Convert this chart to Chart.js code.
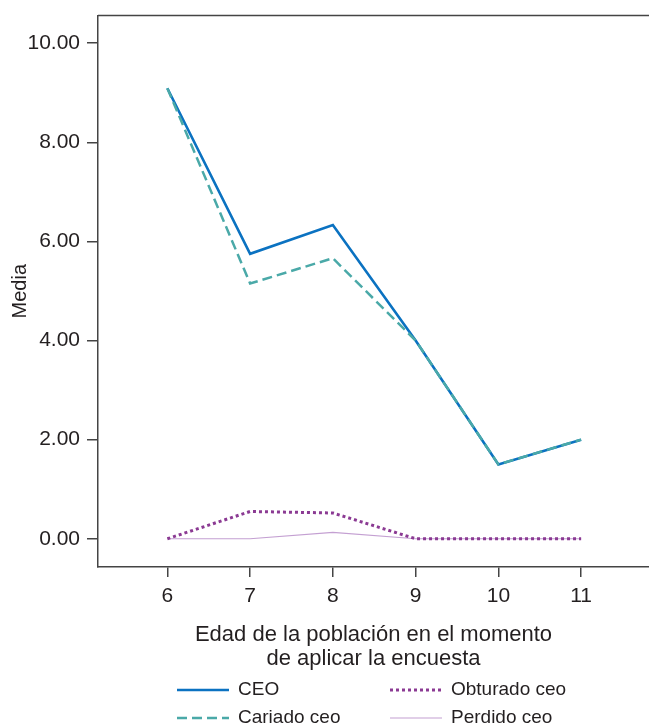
<!DOCTYPE html>
<html>
<head>
<meta charset="utf-8">
<script src="https://cdn.jsdelivr.net/npm/chart.js@4"></script>
<style>
  html, body { margin: 0; padding: 0; background: #fff; }
  #wrap { width: 649px; height: 725px; position: relative; }
</style>
</head>
<body>
<div id="wrap"><canvas id="chart"></canvas></div>
<script>
// edades (eje x) y medias por serie
const ages = [6, 7, 8, 9, 10, 11];
const ceo = [9.09, 5.75, 6.33, 4.00, 1.50, 2.00];
const cariado = [9.09, 5.15, 5.66, 4.00, 1.50, 2.00];
const obturado = [0, 0.55, 0.52, 0, 0, 0];
const perdido = [0, 0, 0.13, 0, 0, 0];
const yTicks = [0, 2, 4, 6, 8, 10];

const FONT = "'Liberation Sans', Arial, sans-serif";
const INK = '#231f20';

const pts = arr => arr.map((v, i) => ({ x: ages[i], y: v }));

// top border of the plot + custom two-column legend
const framePlugin = {
    id: 'frame',
    afterDraw(chart) {
        const { ctx, chartArea } = chart;
        ctx.save();
        ctx.strokeStyle = '#444';
        ctx.lineWidth = 1.5;
        ctx.beginPath();
        ctx.moveTo(chartArea.left, chartArea.top);
        ctx.lineTo(chartArea.right, chartArea.top);
        ctx.stroke();

        const items = [
            { ds: 0, x: 177, y: 690 },
            { ds: 1, x: 177, y: 718 },
            { ds: 2, x: 390, y: 690 },
            { ds: 3, x: 390, y: 718 },
        ];
        ctx.font = '19px ' + FONT;
        ctx.textBaseline = 'middle';
        ctx.fillStyle = INK;
        items.forEach(it => {
            const d = chart.data.datasets[it.ds];
            ctx.strokeStyle = d.borderColor;
            ctx.lineWidth = d.borderWidth;
            ctx.setLineDash(d.borderDash || []);
            ctx.beginPath();
            ctx.moveTo(it.x, it.y);
            ctx.lineTo(it.x + 52, it.y);
            ctx.stroke();
            ctx.setLineDash([]);
            ctx.fillText(d.label, it.x + 61, it.y);
        });
        ctx.restore();
    }
};

new Chart(document.getElementById('chart'), {
    type: 'line',
    data: {
        datasets: [
            { label: 'CEO', data: pts(ceo), borderColor: '#0b72c1', borderWidth: 2.6, order: 2 },
            { label: 'Cariado ceo', data: pts(cariado), borderColor: '#4aa9a8', borderWidth: 2.5, borderDash: [10, 5], order: 1 },
            { label: 'Obturado ceo', data: pts(obturado), borderColor: '#8b3a93', borderWidth: 3, borderDash: [3, 3], order: 0 },
            { label: 'Perdido ceo', data: pts(perdido), borderColor: '#c4a0d2', borderWidth: 1.2, order: 3 },
        ]
    },
    options: {
        responsive: true,
        maintainAspectRatio: false,
        animation: false,
        elements: { point: { radius: 0 }, line: { tension: 0, fill: false } },
        layout: { padding: { top: 15, left: 0, right: 0, bottom: 55 } },
        plugins: { legend: { display: false }, tooltip: { enabled: false } },
        scales: {
            x: {
                type: 'linear',
                min: 5.162,
                max: 11.82,
                afterBuildTicks: s => { s.ticks = ages.map(v => ({ value: v })); },
                afterFit: s => { s.height = 103; },
                grid: { display: true, drawOnChartArea: false, drawTicks: true, tickLength: 10, color: '#444', lineWidth: 1.5 },
                border: { display: true, color: '#444', width: 1.5 },
                ticks: { color: INK, font: { family: FONT, size: 21 }, padding: 7, maxRotation: 0 },
                title: {
                    display: true,
                    text: ['Edad de la población en el momento', 'de aplicar la encuesta'],
                    color: INK,
                    font: { family: FONT, size: 22, lineHeight: 1.05 },
                    padding: { top: 0, bottom: 0 }
                }
            },
            y: {
                min: -0.57,
                max: 10.56,
                afterBuildTicks: s => { s.ticks = yTicks.map(v => ({ value: v })); },
                afterFit: s => { s.width = 98; },
                grid: { display: true, drawOnChartArea: false, drawTicks: true, tickLength: 11, color: '#444', lineWidth: 1.5 },
                border: { display: true, color: '#444', width: 1.5 },
                ticks: { color: INK, font: { family: FONT, size: 21, lineHeight: 0.8 }, padding: 7, callback: v => v.toFixed(2) },
                title: {
                    display: true,
                    text: 'Media',
                    color: INK,
                    font: { family: FONT, size: 20 },
                    padding: { top: 8, bottom: 0 }
                }
            }
        }
    },
    plugins: [framePlugin]
});
</script>
</body>
</html>
